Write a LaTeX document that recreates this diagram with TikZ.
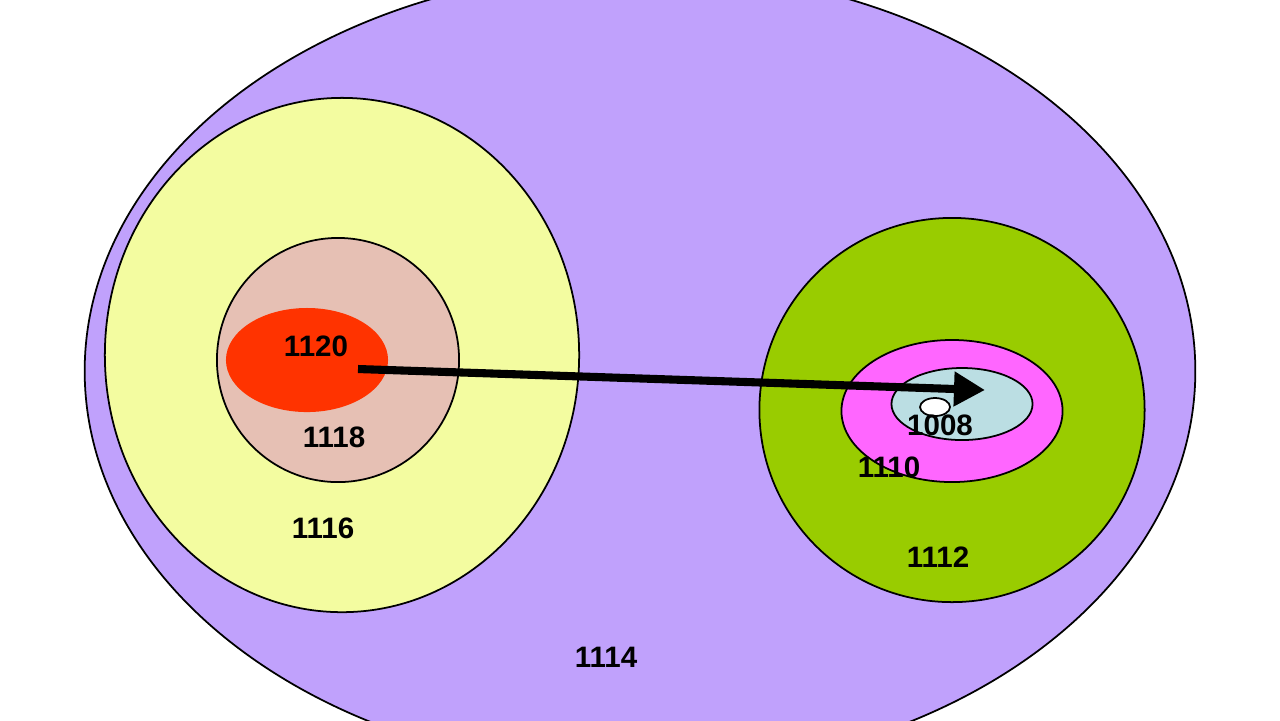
\documentclass[tikz,border=0pt]{standalone}
\usepackage{fontspec}
\setmainfont{Liberation Sans}
\usetikzlibrary{shapes.geometric,arrows.meta}
\definecolor{cpurple}{HTML}{C0A1FC}
\definecolor{cyellow}{HTML}{F3FCA0}
\definecolor{cbeige}{HTML}{E6C0B4}
\definecolor{cred}{HTML}{FF3300}
\definecolor{cgreen}{HTML}{99CC00}
\definecolor{cmagenta}{HTML}{FF66FF}
\definecolor{cblue}{HTML}{BBDEE3}
\tikzset{
  region/.style={ellipse, draw=black, line width=0.5pt, inner sep=0pt},
  lbl/.style={font=\fontsize{8.4}{10}\selectfont\bfseries, inner sep=0pt},
  bigarrow/.style={line width=2.3pt, -{Triangle[length=0.31cm,width=0.33cm]}}
}
\begin{document}
\begin{tikzpicture}[x=0.01cm,y=-0.01cm]
\useasboundingbox (0,0) rectangle (1280,720);
\clip (0,0) rectangle (1280,720);
\fill[white] (0,0) rectangle (1280,720);
% outer region
\node[region, fill=cpurple, minimum width=11.1cm, minimum height=8.02cm] (r1114) at (640,371) {};
% left group
\node[region, fill=cyellow, minimum width=4.74cm, minimum height=5.14cm] (r1116) at (342,355) {};
\node[region, fill=cbeige, minimum width=2.42cm, minimum height=2.44cm] (r1118) at (338,360) {};
\node[ellipse, fill=cred, inner sep=0pt, minimum width=1.62cm, minimum height=1.04cm] (r1120) at (307,360) {};
% right group
\node[region, fill=cgreen, minimum width=3.85cm, minimum height=3.84cm] (r1112) at (952,410) {};
\node[region, fill=cmagenta, minimum width=2.21cm, minimum height=1.42cm] (r1110) at (952,411) {};
\node[region, fill=cblue, minimum width=1.41cm, minimum height=0.72cm] (r1008) at (962,404) {};
\node[region, fill=white, minimum width=0.30cm, minimum height=0.18cm] (dot) at (935,407) {};
% arrow
\coordinate (src) at (358,369);
\coordinate (dst) at (985,390);
\draw[bigarrow] (src) -- (dst);
% labels
\node[lbl] (t1114) at (606,657.5) {1114};
\node[lbl] (t1120) at (316,346) {1120};
\node[lbl] (t1118) at (334,437) {1118};
\node[lbl] (t1116) at (323,528) {1116};
\node[lbl] (t1112) at (938,557) {1112};
\node[lbl] (t1110) at (889,467) {1110};
\node[lbl] (t1008) at (940,425) {1008};
\end{tikzpicture}
\end{document}
